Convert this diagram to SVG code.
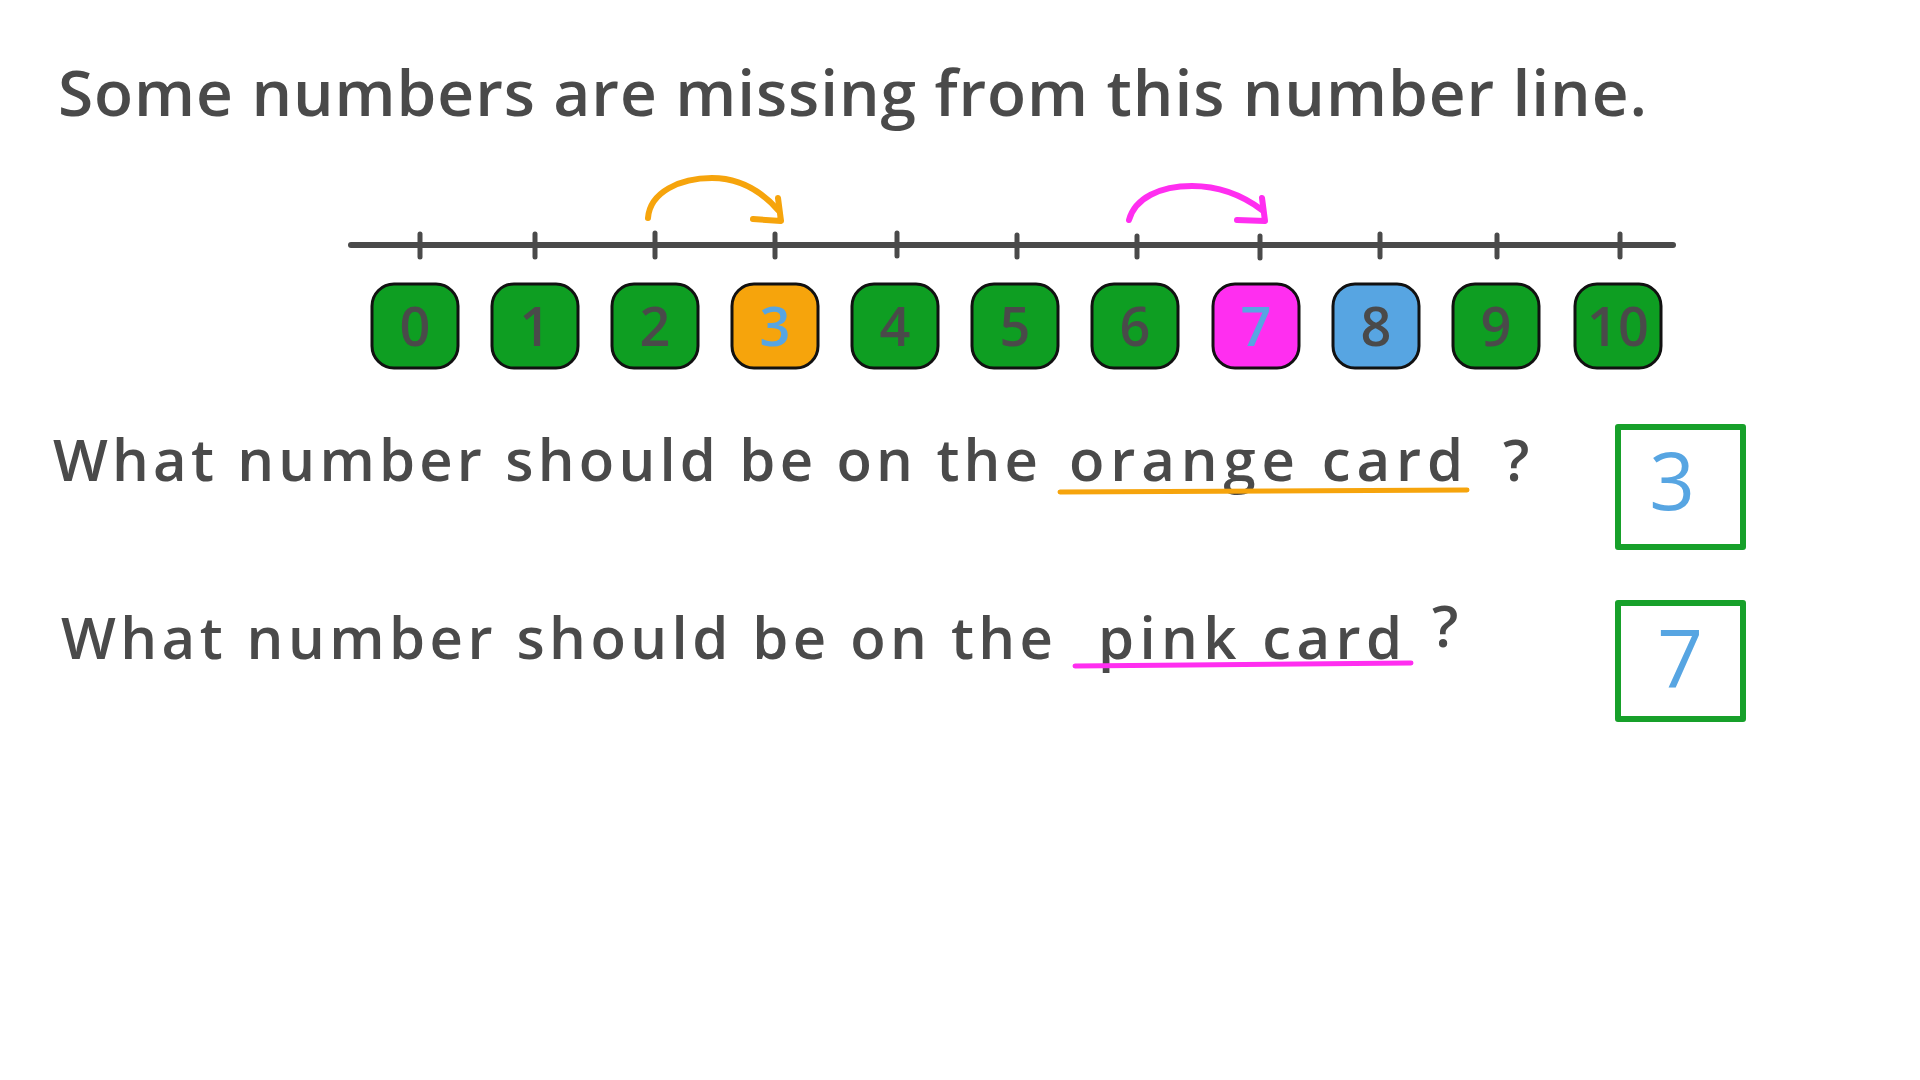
<svg xmlns="http://www.w3.org/2000/svg" width="1920" height="1080" viewBox="0 0 1920 1080">
<style>
.txt{font-family:"Open Sans","Noto Sans","Liberation Sans",sans-serif;font-weight:600;fill:#4a4a4a}
.card{stroke:#111;stroke-width:3}
.g{fill:#0e9e22}
.o{fill:#f6a40c}
.p{fill:#ff2ef0}
.b{fill:#57a5e2}
.dig{font-family:"Open Sans","Noto Sans","Liberation Sans",sans-serif;font-weight:600;font-size:54px;text-anchor:middle;fill:#4a4a4a}
.blue{fill:#57a5e2}
.big{font-size:80px;font-weight:500}
.tick{stroke:#4a4a4a;stroke-width:5;stroke-linecap:round}
.arr{fill:none;stroke-width:6;stroke-linecap:round;stroke-linejoin:round}
.ans{fill:none;stroke:#17a02a;stroke-width:6;stroke-linejoin:round}
</style>
<rect width="1920" height="1080" fill="#fff"/>
<g id="title">
<text class="txt" x="58" y="116" font-size="64" textLength="1589" lengthAdjust="spacing">Some numbers are missing from this number line.</text>
</g>
<g id="numberline">
<line x1="351" y1="245" x2="1673" y2="245" stroke="#4a4a4a" stroke-width="6" stroke-linecap="round"/>
<line class="tick" x1="420" y1="234" x2="420" y2="257"/>
<line class="tick" x1="535" y1="234" x2="535" y2="257"/>
<line class="tick" x1="655" y1="233" x2="655" y2="257"/>
<line class="tick" x1="775" y1="234" x2="775" y2="257"/>
<line class="tick" x1="897" y1="233" x2="897" y2="256"/>
<line class="tick" x1="1017" y1="235" x2="1017" y2="257"/>
<line class="tick" x1="1137" y1="236" x2="1137" y2="257"/>
<line class="tick" x1="1260" y1="236" x2="1260" y2="258"/>
<line class="tick" x1="1380" y1="234" x2="1380" y2="257"/>
<line class="tick" x1="1497" y1="235" x2="1497" y2="257"/>
<line class="tick" x1="1620" y1="234" x2="1620" y2="257"/>
</g>
<g id="connectors">
<g id="arrow-orange" stroke="#f6a40c" class="arr">
<path d="M648,218 C650,192 680,178 712,178 C740,178 762,192 778,210"/>
<path d="M778,198 L781,221 L753,219"/>
</g>
<g id="arrow-pink" stroke="#ff2ef0" class="arr">
<path d="M1129,220 C1135,198 1160,186 1192,186 C1222,186 1246,198 1262,210"/>
<path d="M1262,198 L1265,221 L1237,220"/>
</g>
</g>
<g id="card-0"><rect class="card g" x="372" y="284" width="86" height="84" rx="22"/><text class="dig" x="415" y="346">0</text></g>
<g id="card-1"><rect class="card g" x="492" y="284" width="86" height="84" rx="22"/><text class="dig" x="535" y="346">1</text></g>
<g id="card-2"><rect class="card g" x="612" y="284" width="86" height="84" rx="22"/><text class="dig" x="655" y="346">2</text></g>
<g id="card-3"><rect class="card o" x="732" y="284" width="86" height="84" rx="22"/><text class="dig blue" x="775" y="346">3</text></g>
<g id="card-4"><rect class="card g" x="852" y="284" width="86" height="84" rx="22"/><text class="dig" x="895" y="346">4</text></g>
<g id="card-5"><rect class="card g" x="972" y="284" width="86" height="84" rx="22"/><text class="dig" x="1015" y="346">5</text></g>
<g id="card-6"><rect class="card g" x="1092" y="284" width="86" height="84" rx="22"/><text class="dig" x="1135" y="346">6</text></g>
<g id="card-7"><rect class="card p" x="1213" y="284" width="86" height="84" rx="22"/><text class="dig blue" x="1256" y="346">7</text></g>
<g id="card-8"><rect class="card b" x="1333" y="284" width="86" height="84" rx="22"/><text class="dig" x="1376" y="346">8</text></g>
<g id="card-9"><rect class="card g" x="1453" y="284" width="86" height="84" rx="22"/><text class="dig" x="1496" y="346">9</text></g>
<g id="card-10"><rect class="card g" x="1575" y="284" width="86" height="84" rx="22"/><text class="dig" x="1618" y="346">10</text></g>
<g id="question-1">
<text class="txt" x="53" y="481" font-size="58" textLength="985" lengthAdjust="spacing">What number should be on the</text>
<text class="txt" x="1069" y="481" font-size="58" textLength="394" lengthAdjust="spacing">orange card</text>
<path d="M1060,492 L1467,490" stroke="#f6a40c" stroke-width="5" stroke-linecap="round" fill="none"/>
<text class="txt" x="1503" y="481" font-size="58">?</text>
</g>
<g id="answer-1">
<rect class="ans" x="1618" y="427" width="125" height="120"/>
<text class="dig blue big" x="1672" y="510">3</text>
</g>
<g id="question-2">
<text class="txt" x="61" y="659" font-size="58" textLength="992" lengthAdjust="spacing">What number should be on the</text>
<text class="txt" x="1098" y="659" font-size="58" textLength="304" lengthAdjust="spacing">pink card</text>
<path d="M1075,666 L1411,663" stroke="#ff2ef0" stroke-width="5" stroke-linecap="round" fill="none"/>
<text class="txt" x="1432" y="647" font-size="58">?</text>
</g>
<g id="answer-2">
<rect class="ans" x="1618" y="603" width="125" height="116"/>
<text class="dig blue big" x="1680" y="688">7</text>
</g>
</svg>
